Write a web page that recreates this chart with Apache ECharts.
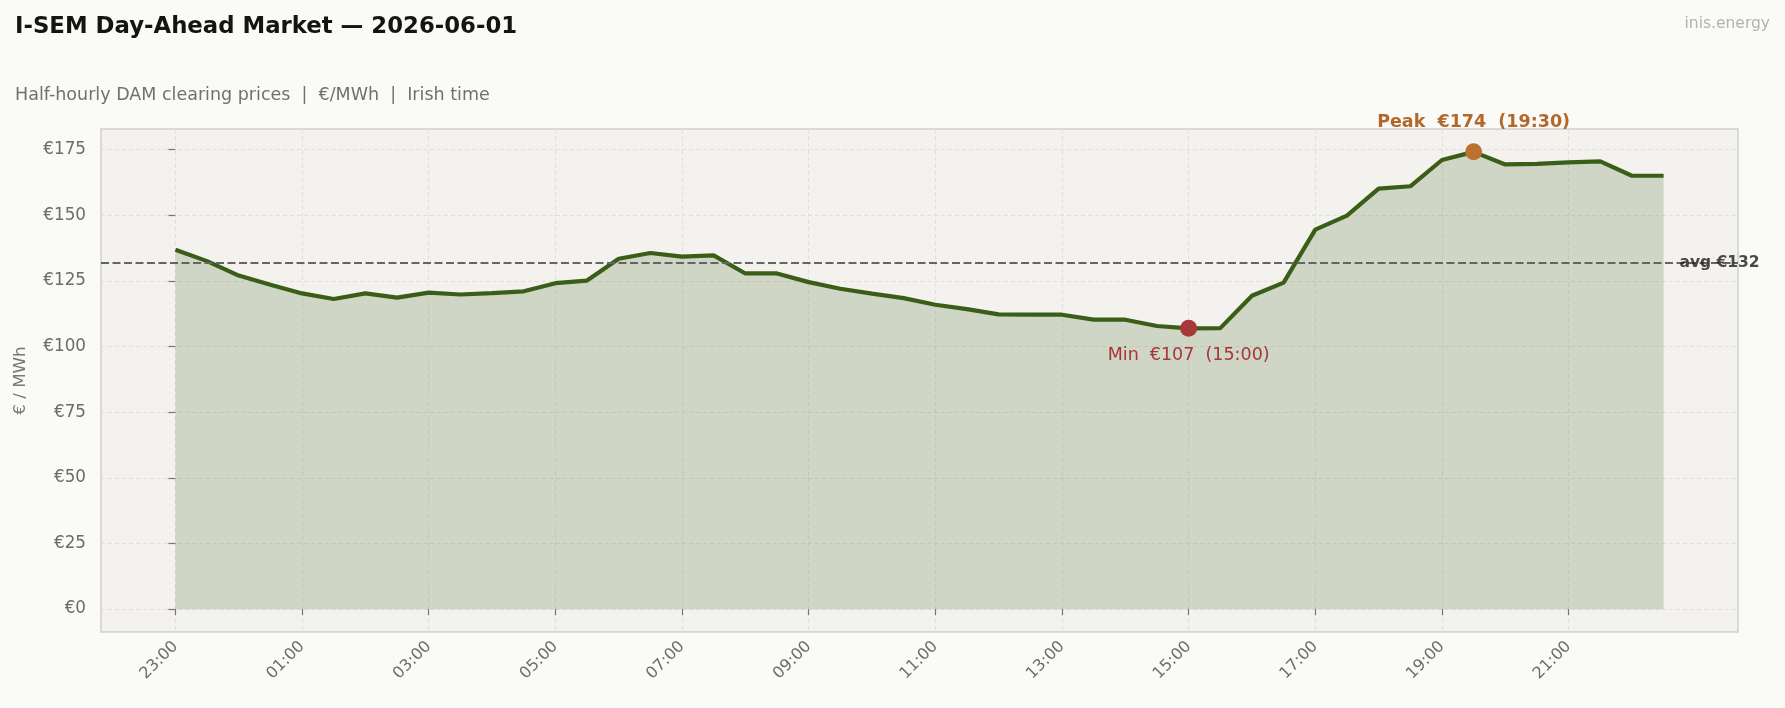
<!DOCTYPE html>
<html>
<head>
<meta charset="utf-8">
<title>I-SEM Day-Ahead Market — 2026-06-01</title>
<script src="https://cdn.jsdelivr.net/npm/echarts@6/dist/echarts.min.js"></script>
<style>
    html, body { margin: 0; padding: 0; background: #fafaf8; }
    #chart { width: 1785px; height: 708px; }
</style>
</head>
<body>
<div id="chart"></div>
<script>
    // half-hourly trading periods, Irish time (day starts 23:00 the evening before)
    const times = [
        '23:00', '23:30', '00:00', '00:30', '01:00', '01:30', '02:00', '02:30',
        '03:00', '03:30', '04:00', '04:30', '05:00', '05:30', '06:00', '06:30',
        '07:00', '07:30', '08:00', '08:30', '09:00', '09:30', '10:00', '10:30',
        '11:00', '11:30', '12:00', '12:30', '13:00', '13:30', '14:00', '14:30',
        '15:00', '15:30', '16:00', '16:30', '17:00', '17:30', '18:00', '18:30',
        '19:00', '19:30', '20:00', '20:30', '21:00', '21:30', '22:00', '22:30'
    ]
    // DAM clearing price, €/MWh
    const prices = [
        136.8, 132.5, 127.0, 123.5, 120.2, 118.1, 120.2, 118.6,
        120.5, 119.8, 120.3, 121.0, 124.1, 125.1, 133.4, 135.6,
        134.2, 134.7, 127.8, 127.8, 124.5, 122.0, 120.1, 118.4,
        115.9, 114.2, 112.2, 112.1, 112.1, 110.2, 110.2, 107.8,
        106.9, 107.0, 119.3, 124.3, 144.5, 149.8, 160.1, 161.0,
        171.0, 174.1, 169.3, 169.5, 170.1, 170.5, 165.0, 165.0
    ]
    // tick positions (index into times) and price ticks
    const xTicks = [0, 4, 8, 12, 16, 20, 24, 28, 32, 36, 40, 44]
    const yTicks = [0, 25, 50, 75, 100, 125, 150, 175]

    const font = 'DejaVu Sans'
    const grey = '#6f6b67'

    const n = prices.length
    const peak = Math.max(...prices)
    const low = Math.min(...prices)
    const peakIdx = prices.indexOf(peak)
    const lowIdx = prices.indexOf(low)
    const avg = prices.reduce((a, b) => a + b, 0) / n

    // 5% padding either side, like the original plot
    const xPad = (n - 1) * 0.05
    const yPad = peak * 0.05

    const myChart = echarts.init(document.getElementById('chart'))
    const option = {
        backgroundColor: '#fafaf8',
        animation: false,
        graphic: [
            {
                type: 'text', left: 15, top: 26.5 - 11.4,
                style: { text: 'I-SEM Day-Ahead Market — 2026-06-01', font: 'bold 22.8px ' + font, fill: '#161412' }
            },
            {
                type: 'text', left: 15, top: 95.5 - 8.75,
                style: { text: 'Half-hourly DAM clearing prices  |  €/MWh  |  Irish time', font: '17.5px ' + font, fill: '#72706c' }
            },
            {
                type: 'text', right: 15, top: 23.7 - 7.75,
                style: { text: 'inis.energy', font: '15.5px ' + font, fill: '#b4b2ae' }
            }
        ],
        grid: {
            left: 101,
            right: 47,
            top: 129,
            bottom: 76,
            show: true,
            backgroundColor: '#f3f2ef',
            borderColor: '#d3cfc8',
            borderWidth: 1.5
        },
        xAxis: {
            type: 'value',
            min: -xPad,
            max: n - 1 + xPad,
            axisLine: { show: false },
            axisTick: {
                show: true,
                length: 6,
                customValues: xTicks,
                lineStyle: { color: '#7a7570', width: 1.2 }
            },
            axisLabel: {
                customValues: xTicks,
                rotate: 45,
                margin: 12,
                fontFamily: font,
                fontSize: 16,
                color: grey,
                formatter: v => times[v]
            },
            splitLine: {
                show: true,
                lineStyle: { color: '#e2dfd9', type: [4, 3], width: 1 }
            }
        },
        yAxis: {
            type: 'value',
            min: -yPad,
            max: peak + yPad,
            name: '€ / MWh',
            nameLocation: 'middle',
            nameGap: 72,
            nameTextStyle: { fontFamily: font, fontSize: 16.7, color: '#7a7672' },
            axisLine: { show: false },
            axisTick: {
                show: true,
                length: 7,
                customValues: yTicks,
                lineStyle: { color: '#7a7570', width: 1.2 }
            },
            axisLabel: {
                customValues: yTicks,
                margin: 15,
                fontFamily: font,
                fontSize: 16.8,
                color: grey,
                formatter: v => '€' + v
            },
            splitLine: {
                show: true,
                lineStyle: { color: '#e2dfd9', type: [4, 3], width: 1 }
            }
        },
        series: [
            {
                type: 'line',
                data: prices.map((v, i) => [i, v]),
                symbol: 'none',
                z: 3,
                lineStyle: { color: '#3a5e17', width: 4.2 },
                itemStyle: { color: '#3a5e17' },
                areaStyle: { color: 'rgb(58, 94, 23)', opacity: 0.19, origin: 'auto' },
                markLine: {
                    silent: true,
                    symbol: 'none',
                    label: { show: false },
                    lineStyle: { color: '#666462', type: [8, 3.5], width: 2, opacity: 1 },
                    data: [{ yAxis: avg }]
                }
            },
            {
                // peak marker
                type: 'scatter',
                z: 5,
                data: [[peakIdx, peak]],
                symbolSize: 17,
                itemStyle: { color: '#bb722e', opacity: 1 },
                label: {
                    show: true,
                    position: 'top',
                    distance: 12,
                    fontFamily: font,
                    fontSize: 17.5,
                    fontWeight: 'bold',
                    color: '#b3682a',
                    formatter: 'Peak  €' + Math.round(peak) + '  (' + times[peakIdx] + ')'
                }
            },
            {
                // min marker
                type: 'scatter',
                z: 5,
                data: [[lowIdx, low]],
                symbolSize: 17,
                itemStyle: { color: '#a63a3a', opacity: 1 },
                label: {
                    show: true,
                    position: 'bottom',
                    distance: 10,
                    fontFamily: font,
                    fontSize: 17.5,
                    color: '#a5353a',
                    formatter: 'Min  €' + Math.round(low) + '  (' + times[lowIdx] + ')'
                }
            },
            {
                // avg tag at the right end of the dashed line
                type: 'scatter',
                z: 6,
                silent: true,
                data: [[n - 0.5, avg]],
                symbolSize: 0,
                label: {
                    show: true,
                    position: 'right',
                    distance: 0,
                    fontFamily: font,
                    fontSize: 15.5,
                    fontWeight: 'bold',
                    color: '#1e1c1a',
                    formatter: 'avg €' + Math.round(avg)
                }
            }
        ]
    }
    myChart.setOption(option)
</script>
</body>
</html>
